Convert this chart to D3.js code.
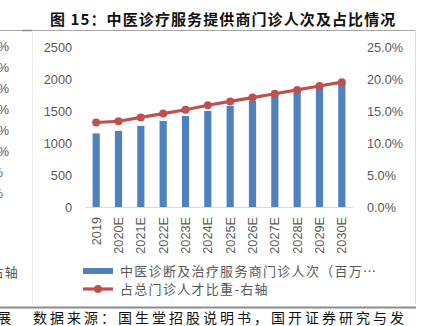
<!DOCTYPE html>
<html><head><meta charset="utf-8">
<script src="https://cdn.jsdelivr.net/npm/d3@7"></script>
<style>
html,body{margin:0;padding:0;background:#fff;}
svg{display:block;}
text{font-family:"Liberation Sans",Arial,sans-serif;}
.cjk{font-family:"Noto Sans CJK SC",sans-serif;}
</style></head>
<body>
<svg id="c" width="423" height="326"></svg>
<script>
const categories = ["2019","2020E","2021E","2022E","2023E","2024E","2025E","2026E","2027E","2028E","2029E","2030E"];
const visits = [1150,1190,1268,1345,1422,1500,1578,1656,1740,1808,1880,1945];
const share = [13.2,13.4,14.0,14.6,15.2,15.9,16.5,17.1,17.7,18.3,18.9,19.5];
const leftTicks = [0,500,1000,1500,2000,2500];
const rightTicks = [0,5,10,15,20,25];
const title = "图 15：中医诊疗服务提供商门诊人次及占比情况";
const legendBar = "中医诊断及治疗服务商门诊人次（百万…";
const legendLine = "占总门诊人才比重-右轴";
const source = "数据来源：国生堂招股说明书，国开证券研究与发";
const leftFragments = ["35%","30%","25%","20%","15%","10%","5%","0%"];

const svg = d3.select("#c");
const gray = "#595959";

// frame lines
svg.append("line").attr("x1",0).attr("x2",415).attr("y1",30.5).attr("y2",30.5).attr("stroke","#a6a6a6").attr("stroke-width",1);
svg.append("line").attr("x1",22).attr("x2",32).attr("y1",30.5).attr("y2",30.5).attr("stroke","#8c8c8c").attr("stroke-width",1.5);
svg.append("line").attr("x1",32.5).attr("x2",32.5).attr("y1",31).attr("y2",304).attr("stroke","#f0f0f0");
svg.append("line").attr("x1",415.5).attr("x2",415.5).attr("y1",30).attr("y2",304).attr("stroke","#e0e0e0");
svg.append("line").attr("x1",0).attr("x2",416).attr("y1",307.5).attr("y2",307.5).attr("stroke","#8c8c8c").attr("stroke-width",2);

// title
svg.append("text").attr("class","cjk").attr("x",50).attr("y",25)
  .attr("font-size",15).attr("font-weight","bold").attr("letter-spacing","1.1px").attr("fill","#111")
  .text(title);

const x = d3.scaleBand().domain(categories).range([85,353]);
const yL = d3.scaleLinear().domain([0,2500]).range([207,47]);
const yR = d3.scaleLinear().domain([0,25]).range([207,47]);

// left fragments from neighbouring chart (cut off at the edge, as in the reference)
svg.selectAll(".frag").data(leftFragments).enter().append("text")
  .attr("x",(d,i)=> i<6 ? 9 : 3).attr("y",(d,i)=>47+i*21).attr("dy","0.35em")
  .attr("text-anchor","end").attr("font-size",12.7).attr("fill",gray).text(d=>d);
svg.append("text").attr("class","cjk").attr("x",19).attr("y",272).attr("dy","0.35em")
  .attr("text-anchor","end").attr("font-size",13).attr("letter-spacing","1.3px").attr("fill",gray).text("-右轴");
svg.append("text").attr("class","cjk").attr("x",11).attr("y",318).attr("dy","0.35em")
  .attr("text-anchor","end").attr("font-size",14).attr("fill","#111").text("发展");

// bars
svg.selectAll(".bar").data(visits).enter().append("rect")
  .attr("x",(d,i)=>x(categories[i])+x.bandwidth()/2-3.6)
  .attr("width",7.2)
  .attr("y",d=>yL(d)).attr("height",d=>yL(0)-yL(d))
  .attr("fill","#4f81bd");

// x axis
const xAxis = svg.append("g").attr("transform","translate(0,207)")
  .call(d3.axisBottom(x).tickSize(0).tickPadding(0));
xAxis.select(".domain").attr("stroke","#d9d9d9").attr("stroke-width",1);
xAxis.selectAll("text").attr("font-size",12.7).attr("fill",gray)
  .attr("transform","rotate(-90)").attr("text-anchor","end")
  .attr("x",-10).attr("y",0).attr("dy","0.35em")
  .style("font-family","Liberation Sans, Arial, sans-serif");

// left axis
const la = svg.append("g").attr("transform","translate(72,0)")
  .call(d3.axisLeft(yL).tickValues(leftTicks).tickSize(0).tickPadding(0).tickFormat(d3.format("d")));
la.select(".domain").remove();
la.selectAll("text").attr("font-size",12.7).attr("fill",gray).attr("x",0).attr("text-anchor","end")
  .style("font-family","Liberation Sans, Arial, sans-serif");

// right axis
const ra = svg.append("g").attr("transform","translate(367,0)")
  .call(d3.axisRight(yR).tickValues(rightTicks).tickSize(0).tickPadding(0).tickFormat(d=>d.toFixed(1)+"%"));
ra.select(".domain").remove();
ra.selectAll("text").attr("font-size",12.7).attr("fill",gray).attr("x",0)
  .style("font-family","Liberation Sans, Arial, sans-serif");

// line
const line = d3.line().x((d,i)=>x(categories[i])+x.bandwidth()/2).y(d=>yR(d));
svg.append("path").datum(share).attr("d",line).attr("fill","none")
  .attr("stroke","#c0504d").attr("stroke-width",3.2);
svg.selectAll(".pt").data(share).enter().append("circle")
  .attr("cx",(d,i)=>x(categories[i])+x.bandwidth()/2).attr("cy",d=>yR(d)).attr("r",4)
  .attr("fill","#c0504d");

// legend
svg.append("rect").attr("x",83).attr("y",268).attr("width",30).attr("height",6).attr("fill","#4f81bd");
svg.append("text").attr("class","cjk").attr("x",120).attr("y",271).attr("dy","0.35em")
  .attr("font-size",13).attr("letter-spacing","1.3px").attr("fill",gray).text(legendBar);
svg.append("line").attr("x1",83).attr("x2",113).attr("y1",289).attr("y2",289).attr("stroke","#c0504d").attr("stroke-width",3.2);
svg.append("circle").attr("cx",98).attr("cy",289).attr("r",4).attr("fill","#c0504d");
svg.append("text").attr("class","cjk").attr("x",120).attr("y",289).attr("dy","0.35em")
  .attr("font-size",13).attr("letter-spacing","1.3px").attr("fill",gray).text(legendLine);

// source
svg.append("text").attr("class","cjk").attr("x",33).attr("y",318).attr("dy","0.35em")
  .attr("font-size",14).attr("letter-spacing","3px").attr("fill","#111").text(source);
</script>
</body></html>
